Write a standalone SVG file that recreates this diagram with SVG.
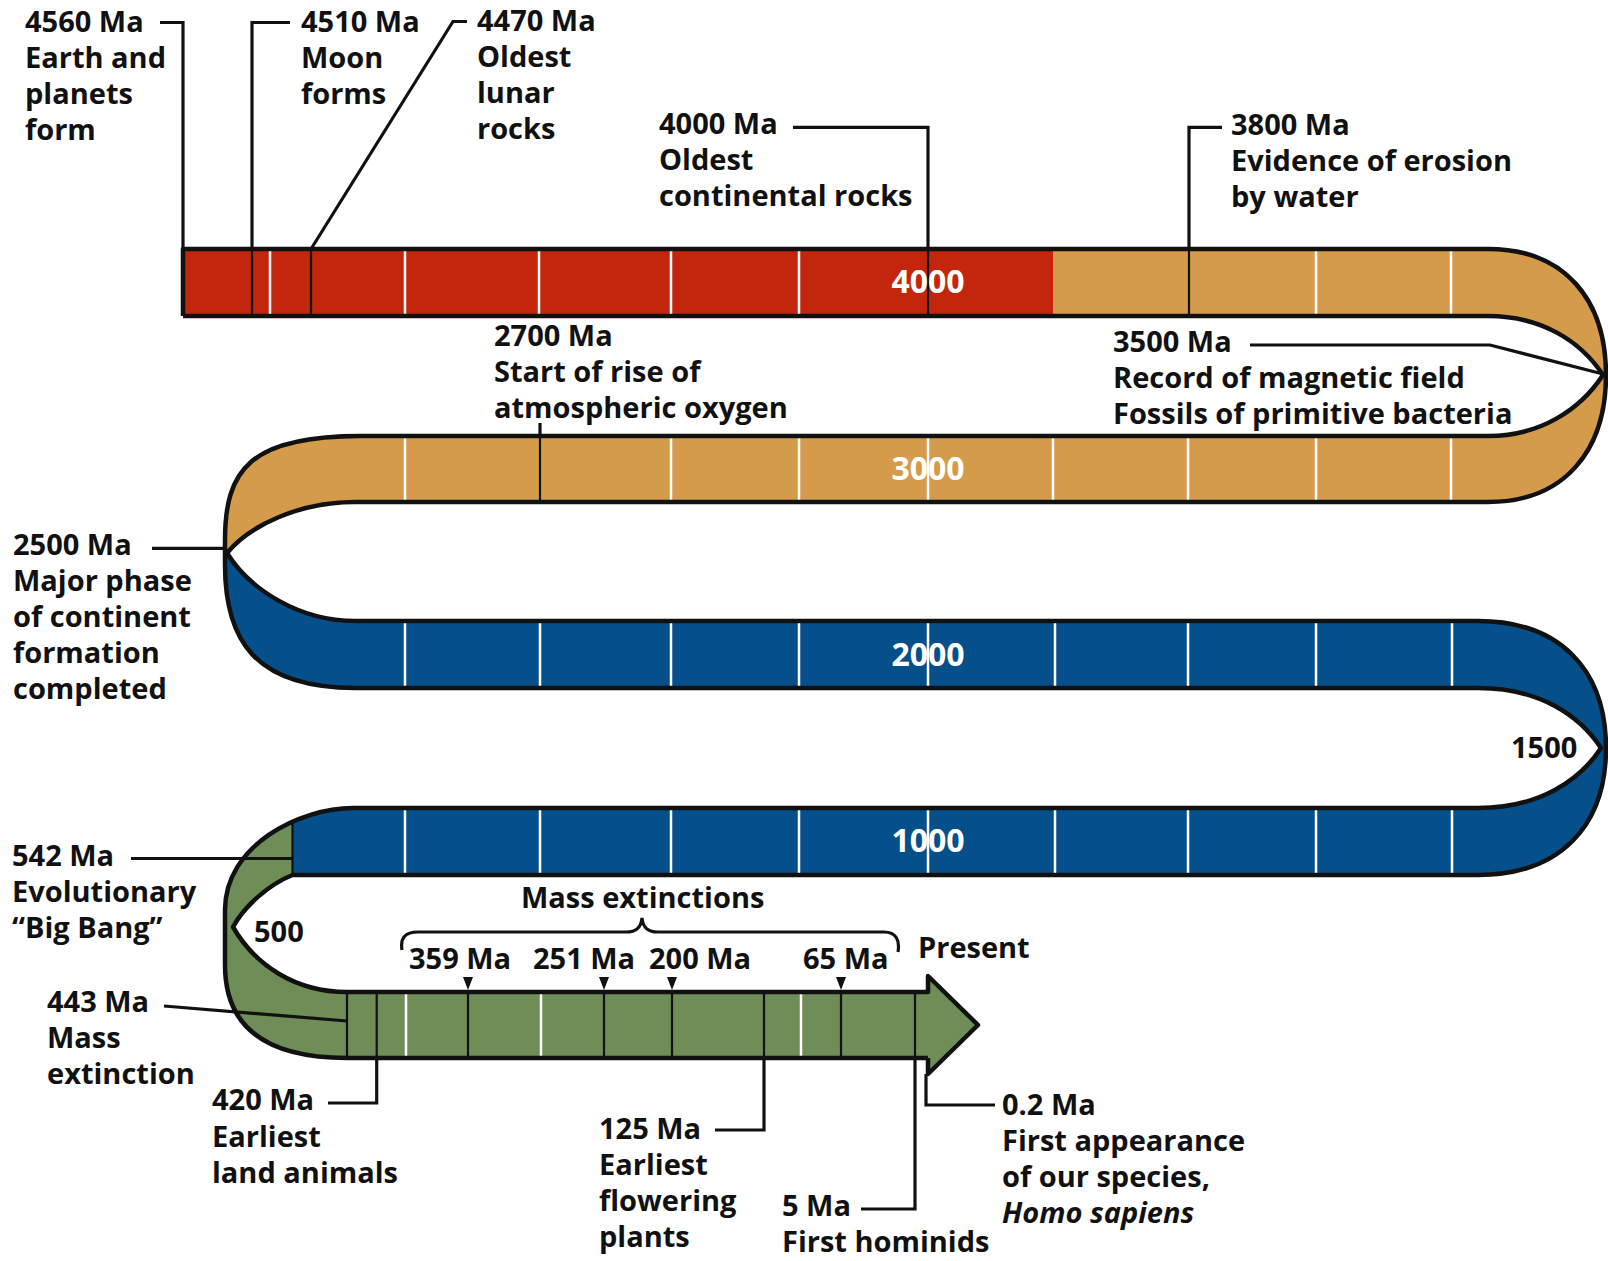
<svg xmlns="http://www.w3.org/2000/svg" width="1608" height="1261" viewBox="0 0 1608 1261">
<style>
text{font-family:"Open Sans","Liberation Sans",Arial,sans-serif;font-weight:700;font-size:29px;fill:#111}
.band{font-size:32px;fill:#fff;text-anchor:middle}
.it{font-style:italic}
.edge{fill:none;stroke:#111;stroke-width:4.5;stroke-linejoin:round}
.lead{fill:none;stroke:#111;stroke-width:3.2}
.wt{stroke:#fff;stroke-width:2.5}
.dt{stroke:#111;stroke-width:2.2}
</style>
<defs>
<path id="tri" d="M-5,0 L5,0 L0,13 Z" fill="#111"/>
</defs>
<rect width="1608" height="1261" fill="#fff"/>
<g id="timeline">
<rect x="183" y="249" width="870" height="67" fill="#C3260C"/>
<path fill="#D49B4B" d="M1053,249 L1488,249 C1565,249 1606,300 1606,375 C1606,450 1565,502 1488,502 L355,502 C300,502 250,525 227,553 L225,553 L225,540 C225,470 250,436 360,436 L1488,436 C1540,436 1580,410 1603,375 C1580,340 1540,316 1488,316 L1053,316 Z"/>
<path fill="#054F8B" d="M227,553 C250,590 300,621 355,621 L1478,621 C1560,621 1606,670 1606,748 C1606,826 1560,875 1478,875 L292.5,875 L292.5,821.6 C312.6,812.7 334.2,808 353,808 L1478,808 C1540,808 1580,780 1601,748 C1580,716 1540,688 1478,688 L355,688 C255,688 225,640 225,565 L225,553 Z"/>
<path fill="#6F8D57" d="M292.5,821.6 C256.2,837.8 225,868.1 225,910 L225,965 C225,1030 270,1058 347,1058 L928,1058 L928,1074 L978,1025 L928,976 L928,992 L347,992 C295,992 255,965 233,927 C245,905 270,884 292.5,875 Z"/>
<g class="wt">
<path d="M270,249V316M405,249V316M539,249V316M671,249V316M799,249V316M1316,249V316M1451,249V316"/>
<path d="M405,436V502M671,436V502M799,436V502M928,436V502M1053,436V502M1188,436V502M1316,436V502M1451,436V502"/>
<path d="M405,621V688M540,621V688M671,621V688M799,621V688M928,621V688M1055,621V688M1188,621V688M1316,621V688M1452,621V688"/>
<path d="M405,808V875M540,808V875M671,808V875M799,808V875M928,808V875M1055,808V875M1188,808V875M1316,808V875M1452,808V875"/>
<path d="M406,992V1058M541,992V1058M801,992V1058"/>
</g>
<g class="dt">
<path d="M252,249V316M311,249V316M928,249V316M1189,249V316M540,436V502M292.5,821.6V875"/>
<path d="M347,992V1058M376.7,992V1058M468,992V1058M604,992V1058M672,992V1058M764,992V1058M841,992V1058M915,992V1058"/>
</g>
<path class="edge" d="M183,316 L183,249 L1488,249 C1565,249 1606,300 1606,375 C1606,450 1565,502 1488,502 L355,502 C300,502 250,525 227,553 C250,590 300,621 355,621 L1478,621 C1560,621 1606,670 1606,748 C1606,826 1560,875 1478,875 L292.5,875 C270,884 245,905 233,927 C255,965 295,992 347,992 L928,992 L928,976 L978,1025 L928,1074 L928,1058"/>
<path class="edge" d="M183,316 L1488,316 C1540,316 1580,340 1603,375 C1580,410 1540,436 1488,436 L360,436 C250,436 225,470 225,540 L225,565 C225,640 255,688 355,688 L1478,688 C1540,688 1580,716 1601,748 C1580,780 1540,808 1478,808 L353,808 C300,808 225,845 225,910 L225,965 C225,1030 270,1058 347,1058 L928,1058"/>
<text class="band" x="928" y="293">4000</text>
<text class="band" x="928" y="480">3000</text>
<text class="band" x="928" y="666">2000</text>
<text class="band" x="928" y="852">1000</text>
<text x="1511" y="758">1500</text>
<text x="254" y="942">500</text>
</g>
<g id="connectors">
<path class="lead" d="M160,22.5H183V249"/>
<path class="lead" d="M290,22.5H252V249"/>
<path class="lead" d="M467,21.5H453L311,249"/>
<path class="lead" d="M793,127.3H928V249"/>
<path class="lead" d="M1222,127.3H1189V249"/>
<path class="lead" d="M1250,345H1490L1603,374"/>
<path class="lead" d="M540,423V436"/>
<path class="lead" d="M152,548.3H225"/>
<path class="lead" d="M131,858.5H292.5"/>
<path class="lead" d="M164,1006L347,1021"/>
<path class="lead" d="M376.7,1058V1103H328"/>
<path class="lead" d="M764,1058V1130H715"/>
<path class="lead" d="M915,1058V1209H861"/>
<path class="lead" d="M926,1074V1105H995"/>
<path class="lead" d="M402,950 C400,938 405,932 418,932 L626,932 C636,932 641,928 642,918 C643,928 648,932 658,932 L884,932 C896,932 900,940 898,952"/>
<use href="#tri" x="468" y="977"/>
<use href="#tri" x="604" y="977"/>
<use href="#tri" x="672" y="977"/>
<use href="#tri" x="841" y="977"/>
</g>
<g id="e4560"><text x="25" y="32">4560 Ma</text><text x="25" y="68">Earth and</text><text x="25" y="104">planets</text><text x="25" y="140">form</text></g>
<g id="e4510"><text x="301" y="32">4510 Ma</text><text x="301" y="68">Moon</text><text x="301" y="104">forms</text></g>
<g id="e4470"><text x="477" y="31">4470 Ma</text><text x="477" y="67">Oldest</text><text x="477" y="103">lunar</text><text x="477" y="139">rocks</text></g>
<g id="e4000"><text x="659" y="134">4000 Ma</text><text x="659" y="170">Oldest</text><text x="659" y="206">continental rocks</text></g>
<g id="e3800"><text x="1231" y="135">3800 Ma</text><text x="1231" y="171">Evidence of erosion</text><text x="1231" y="207">by water</text></g>
<g id="e3500"><text x="1113" y="352">3500 Ma</text><text x="1113" y="388">Record of magnetic field</text><text x="1113" y="424">Fossils of primitive bacteria</text></g>
<g id="e2700"><text x="494" y="346">2700 Ma</text><text x="494" y="382">Start of rise of</text><text x="494" y="418">atmospheric oxygen</text></g>
<g id="e2500"><text x="13" y="555">2500 Ma</text><text x="13" y="591">Major phase</text><text x="13" y="627">of continent</text><text x="13" y="663">formation</text><text x="13" y="699">completed</text></g>
<g id="e542"><text x="12" y="866">542 Ma</text><text x="12" y="902">Evolutionary</text><text x="12" y="938">“Big Bang”</text></g>
<g id="e443"><text x="47" y="1012">443 Ma</text><text x="47" y="1048">Mass</text><text x="47" y="1084">extinction</text></g>
<g id="e420"><text x="212" y="1110">420 Ma</text><text x="212" y="1147">Earliest</text><text x="212" y="1183">land animals</text></g>
<g id="e125"><text x="599" y="1139">125 Ma</text><text x="599" y="1175">Earliest</text><text x="599" y="1211">flowering</text><text x="599" y="1247">plants</text></g>
<g id="e5"><text x="782" y="1216">5 Ma</text><text x="782" y="1252">First hominids</text></g>
<g id="e02"><text x="1002" y="1115">0.2 Ma</text><text x="1002" y="1151">First appearance</text><text x="1002" y="1187">of our species,</text><text class="it" x="1002" y="1223">Homo sapiens</text></g>
<g id="mass"><text x="521" y="908">Mass extinctions</text><text x="409" y="969">359 Ma</text><text x="533" y="969">251 Ma</text><text x="649" y="969">200 Ma</text><text x="803" y="969">65 Ma</text></g>
<g id="present"><text x="918" y="958">Present</text></g>
</svg>
